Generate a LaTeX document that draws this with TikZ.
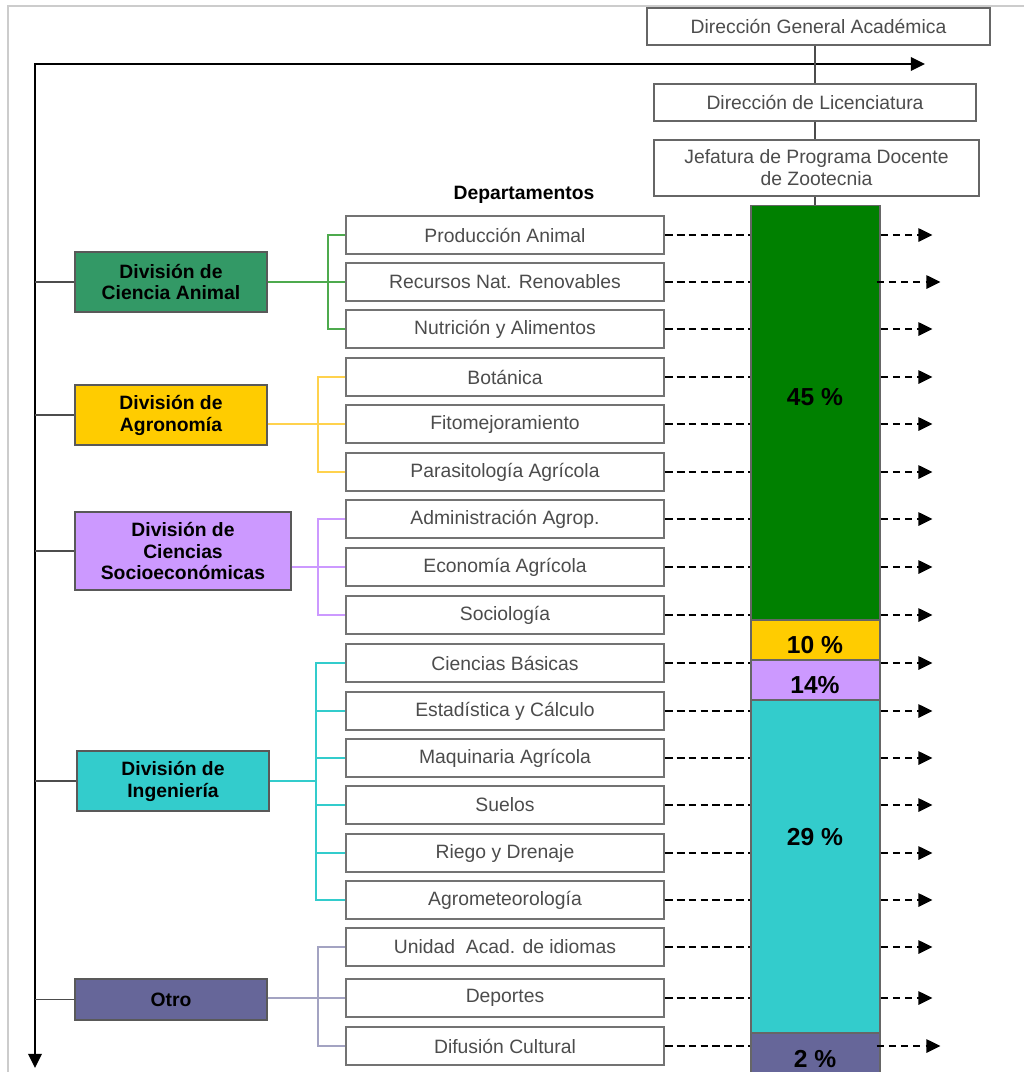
\documentclass[tikz,border=0pt]{standalone}
\usepackage{fontspec}
\setmainfont{Liberation Sans}
\usetikzlibrary{arrows.meta}
\definecolor{verde}{HTML}{008000}
\definecolor{verdeca}{HTML}{339966}
\definecolor{verdelinea}{HTML}{4DAA4D}
\definecolor{amarillo}{HTML}{FFCC00}
\definecolor{amarillolinea}{HTML}{FFD24D}
\definecolor{lila}{HTML}{CC99FF}
\definecolor{turquesa}{HTML}{33CCCC}
\definecolor{violeta}{HTML}{666699}
\tikzset{
  depto/.style={draw=black!55, line width=0.8pt, fill=white, minimum width=6.36cm, minimum height=0.76cm, inner sep=0pt, text=black!70},
  division/.style={draw=black!65, line width=0.6pt, align=center, font=\bfseries\fontsize{11}{12.5}\selectfont, minimum width=3.84cm, minimum height=1.2cm, inner sep=0pt},
  mando/.style={draw=black!60, line width=0.8pt, fill=white, text=black!70, align=center, inner sep=0pt, font=\fontsize{11}{12.5}\selectfont},
  barra/.style={draw=black!60, line width=0.6pt, minimum width=2.58cm, inner sep=0pt},
  pct/.style={font=\bfseries\fontsize{14}{16}\selectfont},
  guia/.style={dash pattern=on 4.5pt off 2.3pt, line width=1.2pt},
  flecha/.style={->, dash pattern=on 4pt off 3pt, line width=1.2pt},
}
\begin{document}
\begin{tikzpicture}[x=0.02cm,y=-0.02cm,>={Triangle[length=8pt,width=7.5pt]},font=\fontsize{11}{13}\selectfont]
\useasboundingbox (0,0) rectangle (1024,1072);
\draw[black!20, line width=1pt] (8,1072) -- (8,6) -- (1024,6);
% ejes
\coordinate (origen) at (35,64);
\coordinate (finX) at (925,64);
\coordinate (finY) at (35,1068);
\draw[line width=1.6pt, <->] (finY) -- (origen) -- (finX);
% mando
\node[mando, minimum width=6.86cm, minimum height=0.74cm] (dga) at (818.5,26.5) {Dirección General Académica};
\node[mando, minimum width=6.44cm, minimum height=0.74cm] (dl) at (815,102.5) {Dirección de Licenciatura};
\node[mando, minimum width=6.5cm, minimum height=1.12cm] (jp) at (816.5,168) {Jefatura de Programa Docente\\de Zootecnia};
% barra
\node[barra, fill=verde, minimum height=8.3cm] (b45) at (815.5,412.5) {};
\node[barra, fill=amarillo, minimum height=0.8cm] (b10) at (815.5,640) {};
\node[barra, fill=lila, minimum height=0.8cm] (b14) at (815.5,680) {};
\node[barra, fill=turquesa, minimum height=6.66cm] (b29) at (815.5,866.5) {};
\node[barra, fill=violeta, minimum height=1.14cm] (b2) at (815.5,1061.5) {};
\node[pct] (p45) at (815,397) {45 \%};
\node[pct] (p10) at (815,645) {10 \%};
\node[pct] (p14) at (815,685) {14\%};
\node[pct] (p29) at (815,837) {29 \%};
\node[pct] (p2) at (815,1059) {2 \%};
\coordinate (tronco) at (815,0);
\draw[black!70, line width=0.6pt] (tronco |- dga.south) -- (tronco |- dl.north) (tronco |- dl.south) -- (tronco |- jp.north) (tronco |- jp.south) -- (tronco |- b45.north);
% departamentos
\node[font=\bfseries\fontsize{11}{13}\selectfont] (titulo) at (524,195) {Departamentos};
\foreach \n/\y/\t in {1/235/Producción Animal, 2/282/Recursos Nat. Renovables, 3/329/Nutrición y Alimentos, 4/377/Botánica, 5/424/Fitomejoramiento, 6/472/Parasitología Agrícola, 7/519/Administración Agrop., 8/567/Economía Agrícola, 9/615/Sociología, 10/663/Ciencias Básicas, 11/711/Estadística y Cálculo, 12/758/Maquinaria Agrícola, 13/805/Suelos, 14/853/Riego y Drenaje, 15/900/Agrometeorología, 16/947/Unidad~~Acad. de idiomas, 17/998/Deportes, 18/1046/Difusión Cultural}
  \node[depto] (d\n) at (505,\y) {\t};
\foreach \n in {1,...,18}
  \draw[guia] (d\n.east) -- (d\n.east -| b45.west);
\foreach \n in {1,3,4,...,17}
  \draw[flecha] (d\n.east -| b45.east) -- ++(52,0);
\foreach \n in {2,18}
  \draw[flecha] (d\n.east -| b45.east) ++(-4,0) -- ++(64,0);
% divisiones
\node[division, fill=verdeca] (cA) at (171,282) {División de\\Ciencia Animal};
\node[division, fill=amarillo] (cB) at (171,415) {División de\\Agronomía};
\node[division, fill=lila, minimum width=4.32cm, minimum height=1.56cm] (cC) at (183,551) {División de\\Ciencias\\Socioeconómicas};
\node[division, fill=turquesa] (cD) at (173,781) {División de\\Ingeniería};
\node[division, fill=violeta, minimum height=0.82cm] (cE) at (171,999.5) {Otro};
\foreach \c in {cA,cB,cC,cD,cE}
  \draw[black!70, line width=0.6pt] (origen |- \c.west) -- (\c.west);
% llaves
\coordinate (kA) at (328,0);
\coordinate (kB) at (318,0);
\coordinate (kD) at (316,0);
\draw[verdelinea, line width=0.6pt] (d1.west) -- (d1.west -| kA) |- (d3.west) (cA.east) -- (d2.west);
\draw[amarillolinea, line width=0.6pt] (d4.west) -- (d4.west -| kB) |- (d6.west) (d5.west -| cB.east) -- (d5.west);
\draw[lila, line width=0.6pt] (d7.west) -- (d7.west -| kB) |- (d9.west) (d8.west -| cC.east) -- (d8.west);
\draw[turquesa, line width=0.6pt] (d10.west) -- (d10.west -| kD) |- (d15.west) (cD.east) -- (cD.east -| kD);
\foreach \n in {11,...,14}
  \draw[turquesa, line width=0.6pt] (d\n.west -| kD) -- (d\n.west);
\draw[violeta!60, line width=0.6pt] (d16.west) -- (d16.west -| kB) |- (d18.west) (d17.west -| cE.east) -- (d17.west);
\end{tikzpicture}
\end{document}
